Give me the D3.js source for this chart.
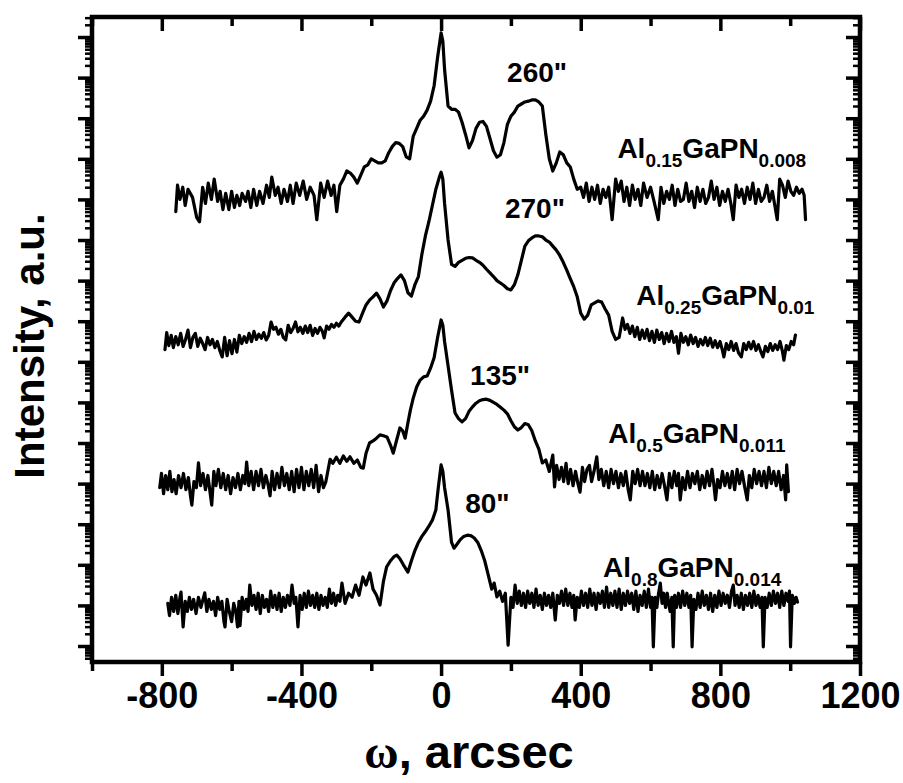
<!DOCTYPE html>
<html>
<head>
<meta charset="utf-8">
<script src="https://cdn.jsdelivr.net/npm/d3@7"></script>
<style>
  html, body { margin: 0; padding: 0; background: #fff; }
  #chart { width: 903px; height: 783px; }
  text { font-family: "Liberation Sans", Arial, sans-serif; font-weight: bold; fill: #000; }
</style>
</head>
<body>
<div id="chart"></div>
<script>
// rocking curves, omega in arcsec vs log intensity (decades, curves offset)
const xMajorTicks = [-800, -400, 0, 400, 800, 1200];
const xMinorTicks = [-1000, -600, -200, 200, 600, 1000];
const sampleNames = [
  ['Al', '0.15', 'GaPN', '0.008'],
  ['Al', '0.25', 'GaPN', '0.01'],
  ['Al', '0.5', 'GaPN', '0.011'],
  ['Al', '0.8', 'GaPN', '0.014']
];
const splitLabels = ['260"', '270"', '135"', '80"'];

const curve015 = [
  [-760,10.70],[-755,11.35],[-748,11.00],[-740,11.30],[-733,10.85],[-725,11.25],[-712,11.05],[-700,10.55],[-692,10.45],
  [-683,11.30],[-675,10.90],[-667,11.40],[-658,11.00],[-650,11.50],[-640,10.95],[-633,11.20],[-625,10.75],[-617,11.15],
  [-608,10.75],[-600,11.20],[-592,10.80],[-585,11.10],[-577,10.85],[-570,11.15],[-560,10.95],[-553,11.20],
  [-545,10.80],[-537,11.25],[-528,10.85],[-520,11.20],[-510,10.90],[-500,11.35],[-492,11.05],[-485,11.55],[-475,11.10],[-467,11.30],
  [-458,10.90],[-450,11.25],[-440,10.95],[-432,11.35],[-424,10.90],[-415,11.40],[-405,11.10],[-395,11.45],[-385,11.00],[-375,11.30],
  [-364,11.10],[-356,10.50],[-345,11.40],[-335,11.05],[-325,11.45],[-315,11.10],[-307,11.35],[-299,10.70],[-290,11.35],[-280,11.50],
  [-270,11.70],[-260,11.65],[-250,11.55],[-240,11.40],[-230,11.60],[-220,11.80],[-210,11.85],[-200,12.00],
  [-190,11.95],[-180,11.90],[-170,11.90],[-160,11.95],[-150,12.15],[-140,12.30],[-130,12.40],[-120,12.38],
  [-110,12.30],[-100,12.05],[-90,12.00],[-80,12.55],[-70,12.75],[-60,12.95],[-50,13.05],[-40,13.20],
  [-30,13.42],[-20,13.80],[-10,14.50],[0,15.10],[5,14.90],[10,14.20],[20,13.30],[30,13.22],[40,13.22],
  [50,13.15],[60,12.90],[70,12.60],[80,12.27],[90,12.45],[100,12.75],[110,12.90],[120,12.92],[130,12.80],
  [140,12.50],[150,12.20],[160,12.04],[170,12.10],[180,12.40],[190,12.85],[200,13.05],[210,13.15],
  [220,13.30],[230,13.35],[240,13.40],[250,13.42],[260,13.45],[270,13.45],[280,13.40],[290,13.30],
  [300,12.60],[310,12.00],[320,11.70],[330,11.90],[340,12.17],[350,12.10],[360,11.90],[370,11.80],
  [380,11.50],[390,11.25],[400,11.30],[408,11.05],[416,11.40],[424,10.95],[432,11.30],[440,11.00],
  [448,11.35],[456,10.90],[464,11.25],[472,11.05],[480,11.30],[490,10.50],[500,11.50],[508,11.20],[516,11.45],[524,10.95],
  [532,11.30],[540,10.85],[548,11.35],[556,11.00],[564,11.25],[572,10.85],[580,11.40],[590,11.05],[600,11.30],[610,10.95],
  [622,10.50],[630,11.30],[638,10.90],[646,11.20],[654,11.00],[662,11.35],[670,10.85],[678,11.25],[686,10.95],
  [694,11.00],[702,11.40],[710,10.95],[718,11.20],[726,10.80],[734,11.30],[742,10.95],[750,11.25],[758,10.90],
  [766,11.05],[774,11.45],[782,11.00],[790,11.30],[798,10.85],[806,11.20],[814,10.95],[822,11.25],[830,10.90],[837,10.50],[845,11.35],
  [853,11.05],[861,11.25],[869,10.90],[877,11.30],[885,11.00],[893,11.40],[901,10.90],[909,11.25],[917,10.95],
  [925,11.05],[933,11.35],[941,10.95],[949,11.20],[963,10.50],[970,11.50],[978,11.35],[986,11.05],[994,11.45],[1002,11.20],[1010,11.10],
  [1018,11.30],[1026,11.15],[1034,11.25],[1040,11.10],[1044,10.50]
];

const curve025 = [
  [-791,7.30],[-786,7.72],[-780,7.40],[-773,7.65],[-767,7.35],[-760,7.62],[-753,7.42],[-746,7.70],[-739,7.38],
  [-732,7.55],[-725,7.78],[-718,7.35],[-711,7.60],[-704,7.70],[-697,7.38],[-690,7.58],[-683,7.45],[-676,7.30],
  [-669,7.60],[-662,7.42],[-655,7.55],[-648,7.35],[-641,7.50],[-634,7.28],[-627,7.12],[-620,7.60],[-613,7.15],
  [-606,7.52],[-599,7.20],[-592,7.55],[-585,7.24],[-578,7.65],[-571,7.45],[-564,7.62],[-557,7.48],[-550,7.70],
  [-543,7.50],[-536,7.75],[-529,7.55],[-522,7.68],[-515,7.58],[-508,7.72],[-501,7.54],[-494,7.65],[-487,7.98],
  [-480,7.80],[-473,7.85],[-466,7.68],[-459,7.80],[-452,7.60],[-445,7.54],[-438,7.90],[-431,7.72],[-424,7.82],
  [-417,7.98],[-410,7.74],[-403,7.85],[-396,7.70],[-389,7.88],[-382,7.72],[-375,7.90],[-368,7.65],[-361,7.82],
  [-354,7.70],[-347,7.85],[-340,7.75],[-335,7.59],[-328,7.88],[-321,7.80],[-314,7.92],[-307,7.85],[-300,7.95],
  [-293,7.88],[-286,7.98],[-275,8.10],[-265,8.20],[-255,8.10],[-245,8.00],
  [-235,7.98],[-225,8.20],[-215,8.40],[-205,8.52],[-195,8.60],[-185,8.69],[-175,8.55],[-165,8.35],
  [-155,8.50],[-145,8.75],[-135,8.94],[-125,9.05],[-115,9.14],[-105,9.00],[-95,8.70],[-85,8.62],
  [-75,8.90],[-65,9.10],[-55,9.65],[-45,10.10],[-35,10.45],[-25,10.85],[-15,11.25],[-5,11.55],
  [0,11.67],[5,11.50],[10,10.90],[20,10.00],[30,9.40],[40,9.35],[50,9.45],[60,9.50],[70,9.55],
  [80,9.57],[90,9.56],[100,9.50],[110,9.45],[120,9.38],[130,9.28],[140,9.19],[150,9.10],[160,9.00],
  [170,8.94],[180,8.88],[190,8.80],[200,8.77],[210,8.90],[220,9.15],[230,9.50],[240,9.85],[250,9.98],
  [260,10.05],[270,10.10],[280,10.10],[290,10.08],[300,10.00],[310,9.95],[320,9.85],[330,9.75],
  [340,9.62],[350,9.45],[360,9.26],[370,9.05],[380,8.85],[390,8.60],[400,8.20],[410,8.05],[420,8.15],
  [430,8.40],[440,8.45],[450,8.50],[460,8.47],[470,8.30],[480,8.15],[490,7.75],[500,7.55],[510,7.60],
  [520,8.08],[527,7.80],[534,7.92],[541,7.70],[548,7.88],[555,7.62],[562,7.85],[569,7.55],[576,7.78],
  [583,7.58],[590,7.80],[597,7.52],[604,7.75],[611,7.48],[618,7.78],[625,7.55],[632,7.72],[639,7.45],
  [646,7.70],[653,7.50],[660,7.75],[667,7.48],[674,7.62],[680,7.21],[687,7.70],[694,7.48],[701,7.62],
  [708,7.42],[715,7.66],[722,7.45],[729,7.60],[736,7.38],[743,7.55],[750,7.42],[757,7.60],[764,7.40],
  [771,7.58],[778,7.36],[785,7.52],[792,7.35],[799,7.50],[806,7.28],[810,7.12],[817,7.45],[824,7.30],
  [831,7.50],[838,7.28],[845,7.45],[852,7.22],[860,7.12],[867,7.45],[874,7.30],[881,7.48],[888,7.32],
  [895,7.50],[902,7.28],[909,7.42],[916,7.25],[922,7.12],[929,7.38],[936,7.25],[943,7.45],[950,7.28],
  [957,7.42],[964,7.30],[971,7.50],[978,7.25],[982,7.04],[989,7.40],[996,7.30],[1003,7.50],[1010,7.42],
  [1015,7.66]
];

const curve05 = [
  [-806,3.90],[-801,4.25],[-795,3.75],[-789,4.20],[-783,3.85],[-777,4.30],[-771,3.80],[-765,4.10],[-759,3.75],
  [-752,4.20],[-745,3.90],[-738,4.25],[-731,3.85],[-724,4.15],[-718,3.70],[-714,3.47],[-708,4.05],[-701,3.90],
  [-695,4.51],[-689,3.95],[-682,4.25],[-675,3.85],[-668,4.20],[-662,3.80],[-657,3.47],[-651,4.30],[-645,3.95],
  [-638,4.35],[-631,3.90],[-624,4.25],[-617,3.85],[-610,4.20],[-603,3.75],[-596,4.15],[-589,3.90],[-582,4.25],
  [-575,3.85],[-568,4.20],[-562,4.00],[-557,4.53],[-551,3.95],[-544,4.30],[-537,3.85],[-530,4.30],[-523,3.95],
  [-516,4.35],[-509,3.90],[-502,4.20],[-495,3.95],[-490,3.70],[-484,4.30],[-477,3.85],[-470,4.25],[-463,3.90],
  [-456,4.40],[-449,3.95],[-442,4.25],[-435,3.85],[-428,4.30],[-421,3.80],[-414,4.35],[-407,3.90],[-400,4.40],
  [-393,3.85],[-386,4.30],[-379,3.95],[-372,4.35],[-365,3.90],[-358,4.45],[-351,3.80],[-344,4.20],[-337,3.90],
  [-330,4.05],[-318,4.60],[-310,4.50],[-300,4.65],[-290,4.50],[-280,4.68],[-270,4.55],
  [-261,4.66],[-250,4.50],[-240,4.58],[-230,4.40],[-223,4.38],[-215,4.75],[-205,5.00],[-195,5.05],
  [-185,5.12],[-175,5.20],[-165,5.18],[-155,5.15],[-145,4.95],[-137,4.75],[-128,5.05],[-118,5.37],
  [-110,5.30],[-103,5.12],[-95,5.50],[-88,5.81],[-80,6.10],[-70,6.38],[-60,6.55],[-50,6.63],
  [-40,6.65],[-30,6.85],[-20,7.10],[-10,7.60],[0,8.03],[5,7.90],[10,7.50],[20,6.90],[30,6.30],
  [40,5.74],[50,5.60],[60,5.52],[70,5.60],[80,5.78],[90,5.89],[100,5.98],[110,6.04],[120,6.07],
  [130,6.08],[140,6.05],[150,6.00],[160,5.95],[170,5.88],[180,5.81],[190,5.72],[200,5.55],[210,5.40],
  [220,5.32],[230,5.38],[240,5.48],[250,5.45],[260,5.30],[270,5.05],[280,4.85],[290,4.51],[300,4.58],
  [310,4.30],[320,4.70],[325,3.92],[331,4.45],[338,4.10],[345,4.40],[351,4.05],[358,4.50],[364,4.00],
  [371,4.35],[378,3.95],[385,4.30],[392,4.00],[398,3.79],[405,4.40],[411,4.05],[418,4.35],[425,4.45],
  [431,4.05],[438,4.30],[446,4.66],[452,4.10],[459,4.35],[466,3.95],[473,4.30],[480,3.90],[487,4.35],
  [494,4.00],[501,4.30],[508,3.90],[515,4.25],[522,3.95],[529,4.30],[536,3.85],[542,3.60],[549,4.30],
  [556,4.00],[563,4.35],[570,3.95],[577,4.30],[584,3.95],[591,4.25],[598,3.90],[605,4.30],[612,3.85],
  [619,4.20],[626,3.90],[633,4.25],[640,3.95],[647,3.60],[654,4.25],[661,3.90],[668,4.30],[675,3.95],
  [680,4.25],[685,3.60],[692,4.15],[699,3.85],[706,4.30],[713,3.90],[720,4.25],[727,4.00],[734,4.30],
  [741,3.85],[748,4.20],[755,3.90],[762,4.30],[769,3.95],[776,4.35],[781,4.00],[786,3.60],[792,4.10],
  [799,3.90],[806,4.30],[813,3.95],[820,4.25],[827,3.90],[834,4.30],[841,3.85],[848,4.35],[855,4.00],
  [862,4.30],[869,3.95],[877,3.60],[883,4.20],[890,3.90],[897,4.35],[904,4.00],[911,4.30],[918,3.95],
  [925,4.30],[932,3.90],[939,4.40],[946,4.00],[953,4.30],[960,3.95],[967,4.30],[974,3.85],[981,4.20],
  [987,3.60],[990,4.46],[995,3.80]
];

const curve08 = [
  [-783,1.05],[-778,0.75],[-772,1.20],[-766,0.85],[-760,1.25],[-754,0.80],[-748,1.20],[-745,1.33],[-739,0.47],
  [-733,1.10],[-727,0.85],[-721,1.20],[-715,0.90],[-709,1.15],[-702,0.80],[-695,1.20],[-688,0.95],[-682,1.15],
  [-677,1.31],[-671,0.85],[-665,1.15],[-658,0.90],[-652,1.10],[-646,0.75],[-640,1.20],[-634,0.90],[-628,1.10],
  [-622,0.60],[-619,0.47],[-613,1.15],[-607,0.85],[-600,0.60],[-594,1.05],[-588,0.85],[-583,0.47],[-579,1.10],
  [-576,0.50],[-570,1.20],[-564,0.90],[-558,1.15],[-553,0.85],[-548,1.50],[-542,1.00],[-536,1.25],[-530,0.90],
  [-524,1.30],[-518,0.80],[-512,1.25],[-506,0.95],[-500,1.15],[-494,0.85],[-488,1.35],[-482,0.95],[-476,1.25],
  [-470,0.90],[-464,1.30],[-458,0.85],[-452,1.20],[-446,0.95],[-440,1.25],[-433,1.00],[-427,1.50],[-421,1.05],
  [-416,1.20],[-410,0.47],[-404,1.25],[-398,0.90],[-392,1.30],[-386,0.95],[-380,1.35],[-374,1.00],[-368,1.25],
  [-362,0.95],[-356,1.30],[-350,0.90],[-344,1.25],[-338,1.00],[-332,1.20],[-326,0.95],[-320,1.40],[-314,1.05],
  [-308,1.30],[-302,1.00],[-296,1.25],[-290,1.10],[-284,1.55],[-275,1.05],[-265,1.30],[-255,1.20],
  [-245,1.50],[-235,1.25],[-224,1.70],[-215,1.50],[-204,1.80],[-195,1.40],[-185,1.25],[-175,1.01],
  [-165,1.60],[-156,1.95],[-145,2.10],[-135,2.20],[-127,2.24],[-118,2.15],[-108,2.00],[-95,1.82],
  [-85,2.10],[-75,2.35],[-65,2.55],[-55,2.70],[-45,2.82],[-35,2.95],[-25,3.10],[-15,3.35],[-8,3.90],
  [0,4.46],[5,4.30],[10,3.90],[20,3.35],[30,2.55],[37,2.41],[45,2.50],[55,2.62],[65,2.70],[75,2.73],
  [85,2.72],[95,2.66],[105,2.55],[115,2.35],[125,2.10],[135,1.75],[145,1.40],[152,1.55],[160,1.21],
  [168,1.35],[176,1.10],[184,1.30],[192,0.02],[200,1.20],[206,0.95],[212,1.50],[218,1.05],[224,1.35],
  [230,1.00],[236,1.30],[242,0.95],[248,1.35],[254,1.05],[260,1.30],[266,0.95],[272,1.40],[278,1.00],
  [284,1.25],[290,0.90],[296,1.30],[302,1.00],[308,1.25],[314,0.95],[320,1.30],[327,0.64],[333,1.25],
  [339,1.05],[345,1.35],[351,1.00],[357,1.40],[363,1.00],[369,1.30],[375,0.95],[380,1.25],[384,0.64],
  [390,1.20],[396,0.95],[402,1.35],[408,1.00],[414,1.30],[420,0.95],[426,1.40],[432,1.00],[438,1.30],
  [444,0.90],[450,1.30],[456,1.05],[462,1.35],[468,0.95],[474,1.45],[480,0.95],[486,1.30],[492,1.00],
  [498,1.35],[504,0.95],[510,1.40],[516,0.90],[522,1.30],[528,1.00],[534,1.35],[540,1.05],[546,1.30],
  [552,0.90],[558,1.35],[564,0.85],[570,1.25],[576,1.00],[582,1.35],[588,0.95],[594,1.40],[600,0.95],
  [604,1.20],[608,-0.02],[613,1.20],[618,0.95],[623,1.30],[628,1.55],[633,1.05],[638,1.30],[643,0.95],
  [648,1.30],[653,1.00],[656,0.85],[661,1.20],[665,-0.02],[669,1.25],[674,0.95],[680,1.30],[686,0.95],
  [692,1.35],[698,1.00],[704,1.30],[710,0.95],[715,1.25],[719,-0.02],[724,1.15],[730,0.90],[736,1.30],
  [742,0.95],[748,1.35],[754,1.00],[760,1.25],[766,0.90],[772,1.30],[778,0.85],[784,1.25],[790,0.95],
  [796,1.35],[802,1.00],[808,1.30],[814,1.05],[820,1.25],[826,0.95],[832,1.35],[837,1.50],[842,1.00],
  [848,1.25],[854,0.95],[860,1.30],[866,0.90],[872,1.25],[878,1.00],[884,1.30],[890,0.95],[896,1.35],
  [902,1.00],[908,1.25],[914,0.95],[919,1.20],[923,-0.02],[928,1.20],[934,0.95],[940,1.30],[946,1.00],
  [952,1.35],[958,1.05],[964,1.30],[970,0.95],[976,1.35],[982,1.00],[988,1.30],[994,1.10],[998,1.35],
  [1001,-0.02],[1006,1.25],[1012,1.05],[1017,1.20],[1021,1.08]
];

const curves = [curve015, curve025, curve05, curve08];

const W = 903, H = 783;
const margin = { top: 17, right: 43, bottom: 121, left: 92 };
const w = W - margin.left - margin.right;
const h = H - margin.top - margin.bottom;

const svg = d3.select('#chart').append('svg').attr('width', W).attr('height', H);
const g = svg.append('g').attr('transform', `translate(${margin.left},${margin.top})`);

const x = d3.scaleLinear().domain([-1000, 1200]).range([0, w]);
const y = d3.scaleLinear().domain([-0.394, 15.493]).range([h, 0]);

// y ticks: decades + log-style minors
const yMajor = d3.range(0, 16);
const yMinor = [];
for (let k = -1; k <= 15; k++) {
  for (let m = 2; m <= 9; m++) {
    const v = k + Math.log10(m);
    if (v > y.domain()[0] && v < y.domain()[1]) yMinor.push(v);
  }
}

function styleAxis(width) {
  return sel => {
    sel.select('.domain').remove();
    sel.selectAll('line').attr('stroke', '#000').attr('stroke-width', width);
  };
}

// bottom
g.append('g').attr('transform', `translate(0,${h})`)
  .call(d3.axisBottom(x).tickValues(xMajorTicks).tickSize(14).tickPadding(6).tickFormat(d => String(d)))
  .call(styleAxis(3.5))
  .call(s => s.selectAll('text').style('font-size', '36px').style('font-family', '"Liberation Sans", Arial, sans-serif').style('font-weight', 'bold'));
g.append('g').attr('transform', `translate(0,${h})`)
  .call(d3.axisBottom(x).tickValues(xMinorTicks).tickSize(9).tickFormat(''))
  .call(styleAxis(3.5));
// top (inward)
g.append('g')
  .call(d3.axisTop(x).tickValues(xMajorTicks).tickSize(-14).tickFormat(''))
  .call(styleAxis(3.5));
g.append('g')
  .call(d3.axisTop(x).tickValues(xMinorTicks).tickSize(-9).tickFormat(''))
  .call(styleAxis(3.5));
// left (outward)
g.append('g')
  .call(d3.axisLeft(y).tickValues(yMajor).tickSize(14).tickFormat(''))
  .call(styleAxis(3.5));
g.append('g')
  .call(d3.axisLeft(y).tickValues(yMinor).tickSize(7).tickFormat(''))
  .call(styleAxis(2.5));
// right (inward)
g.append('g').attr('transform', `translate(${w},0)`)
  .call(d3.axisRight(y).tickValues(yMajor).tickSize(-14).tickFormat(''))
  .call(styleAxis(3.5));
g.append('g').attr('transform', `translate(${w},0)`)
  .call(d3.axisRight(y).tickValues(yMinor).tickSize(-7).tickFormat(''))
  .call(styleAxis(2.5));

// frame
g.append('rect').attr('x', 0).attr('y', 0).attr('width', w).attr('height', h)
  .attr('fill', 'none').attr('stroke', '#000').attr('stroke-width', 4.5);

// curves
const line = d3.line().x(d => x(d[0])).y(d => y(d[1]));
g.selectAll('path.curve').data(curves).enter().append('path')
  .attr('class', 'curve')
  .attr('d', line)
  .attr('fill', 'none').attr('stroke', '#000').attr('stroke-width', 3.2)
  .attr('stroke-linejoin', 'round').attr('stroke-linecap', 'round');

// sample labels with subscripts
const labelAnchors = [[505, 12.02], [559, 8.40], [479, 5.0], [464, 1.70]];
sampleNames.forEach((parts, i) => {
  const t = g.append('text')
    .attr('x', x(labelAnchors[i][0])).attr('y', y(labelAnchors[i][1]))
    .style('font-size', '28px');
  t.append('tspan').text(parts[0]);
  t.append('tspan').attr('dy', 9).style('font-size', '19px').text(parts[1]);
  t.append('tspan').attr('dy', -9).text(parts[2]);
  t.append('tspan').attr('dy', 9).style('font-size', '19px').text(parts[3]);
});

// splitting annotations
const splitAnchors = [[189, 13.89], [183, 10.54], [83, 6.43], [69, 3.28]];
splitLabels.forEach((s, i) => {
  g.append('text')
    .attr('x', x(splitAnchors[i][0])).attr('y', y(splitAnchors[i][1]))
    .style('font-size', '28px').text(s);
});

// axis titles
const xt = svg.append('text')
  .attr('x', margin.left + x(80)).attr('y', 768)
  .attr('text-anchor', 'middle').style('font-size', '47px');
xt.append('tspan').style('font-family', '"Liberation Serif", "Times New Roman", serif').text('ω');
xt.append('tspan').text(', arcsec');

svg.append('text')
  .attr('transform', `translate(44,346) rotate(-90)`)
  .attr('text-anchor', 'middle').style('font-size', '42px')
  .text('Intensity, a.u.');
</script>
</body>
</html>
